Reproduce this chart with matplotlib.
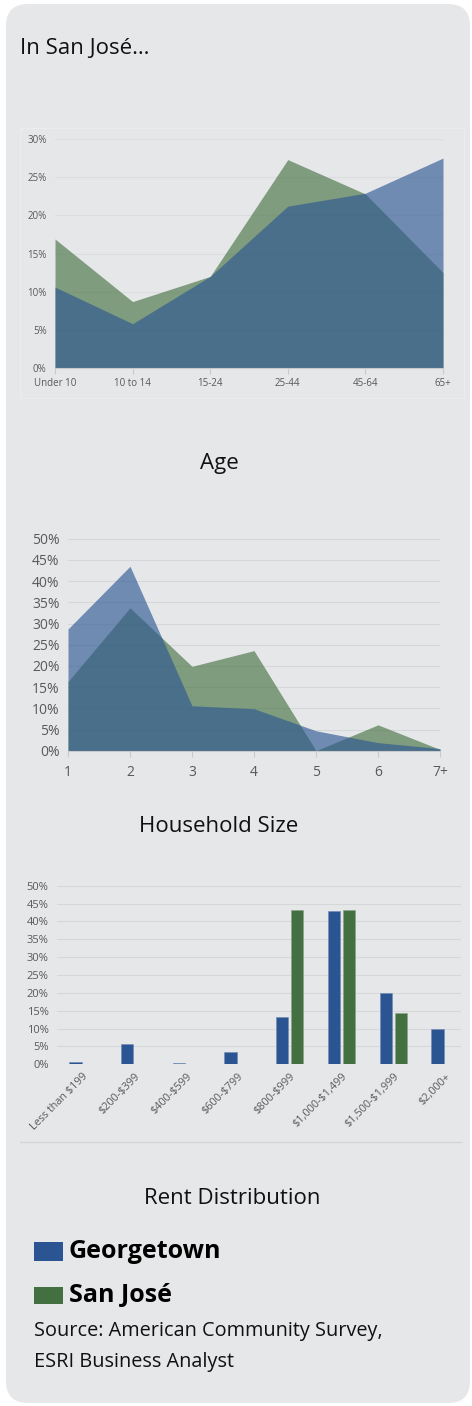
import numpy as np
import matplotlib.pyplot as plt
from matplotlib.patches import FancyBboxPatch, Rectangle
from matplotlib.ticker import PercentFormatter, MultipleLocator

plt.rcParams['font.family'] = ['Open Sans', 'DejaVu Sans']

# ---- data ----
age_labels = ['Under 10', '10 to 14', '15-24', '25-44', '45-64', '65+']
age_georgetown = [10.6, 5.8, 12.0, 21.2, 22.9, 27.5]
age_sanjose = [16.9, 8.7, 12.0, 27.3, 22.8, 12.5]

hh_labels = ['1', '2', '3', '4', '5', '6', '7+']
hh_georgetown = [28.7, 43.5, 10.6, 9.9, 4.7, 1.9, 0.5]
hh_sanjose = [16.3, 33.7, 19.9, 23.6, 0.0, 6.1, 0.3]

rent_labels = ['Less than $199', '$200-$399', '$400-$599', '$600-$799',
               '$800-$999', '$1,000-$1,499', '$1,500-$1,999', '$2,000+']
rent_georgetown = [0.7, 5.8, 0.4, 3.4, 13.3, 42.8, 20.1, 9.8]
rent_sanjose = [0, 0, 0, 0, 43.1, 43.1, 14.3, 0]

BLUE = '#2b5592'
GREEN = '#437040'
BG = '#e6e7e9'
GRID = '#d6d7da'
TICK = '#595959'

W, H = 472, 1406
fig = plt.figure(figsize=(W / 100, H / 100), dpi=100)
fig.patch.set_facecolor('white')

# background layer in pixel coords
bg = fig.add_axes([0, 0, 1, 1], zorder=0)
bg.set_xlim(0, W)
bg.set_ylim(H, 0)
bg.axis('off')
bg.add_patch(FancyBboxPatch((6, 4), 464, 1399, boxstyle='round,pad=0,rounding_size=22',
                            facecolor=BG, edgecolor='none'))


def px_axes(left, top, right, bottom):
    return fig.add_axes([left / W, 1 - bottom / H, (right - left) / W, (bottom - top) / H],
                        zorder=2, facecolor='none')


def style(ax, ymax, step, size, gridcolor=GRID):
    ax.set_ylim(0, ymax)
    ax.yaxis.set_major_locator(MultipleLocator(step))
    ax.yaxis.set_major_formatter(PercentFormatter(decimals=0))
    ax.grid(axis='y', color=gridcolor, linewidth=0.8)
    ax.set_axisbelow(True)
    for s in ['top', 'right', 'left']:
        ax.spines[s].set_visible(False)
    ax.spines['bottom'].set_color('#c9cacc')
    ax.tick_params(axis='y', length=0, labelsize=size, labelcolor=TICK, pad=6)
    ax.tick_params(axis='x', colors='#c9cacc', labelcolor=TICK, labelsize=size, length=4)


bg.text(20, 48, 'In San José…', fontsize=16, color='#111111', va='center', ha='left')

# ---- age chart ----
bg.add_patch(Rectangle((19.5, 127.5), 444, 270, facecolor='none', edgecolor='#ebecee', linewidth=1))
ax1 = px_axes(55, 139, 443, 368)
x = np.arange(len(age_labels))
ax1.fill_between(x, age_sanjose, color=GREEN, alpha=0.63, linewidth=0)
ax1.fill_between(x, age_georgetown, color=BLUE, alpha=0.63, linewidth=0)
ax1.set_xlim(0, len(age_labels) - 1)
ax1.set_xticks(x, age_labels)
style(ax1, 30, 5, 7, gridcolor='#dcdde0')
ax1.tick_params(axis='x', pad=3)
bg.text(219, 463, 'Age', fontsize=16, ha='center', va='center', color='#111111')

# ---- household size chart ----
ax2 = px_axes(68, 538.7, 440, 750.7)
x = np.arange(len(hh_labels))
ax2.fill_between(x, hh_sanjose, color=GREEN, alpha=0.63, linewidth=0)
ax2.fill_between(x, hh_georgetown, color=BLUE, alpha=0.63, linewidth=0)
ax2.set_xlim(0, len(hh_labels) - 1)
ax2.set_xticks(x, hh_labels)
style(ax2, 50, 5, 10)
ax2.tick_params(axis='x', pad=6)
bg.text(219, 826, 'Household Size', fontsize=16, ha='center', va='center', color='#111111')

# ---- rent chart ----
ax3 = px_axes(57, 885.7, 461, 1064.3)
x = np.arange(len(rent_labels))
bw = 0.24
ax3.bar(x - 0.145, rent_georgetown, bw, color=BLUE, edgecolor='#6f8bb5', linewidth=0.4)
ax3.bar(x + 0.145, rent_sanjose, bw, color=GREEN, edgecolor='#88a287', linewidth=0.4)
ax3.set_xlim(-0.5, 7.31)
ax3.set_xticks(x, [lab.replace('$', r'\$') for lab in rent_labels],
               rotation=45, ha='right', rotation_mode='anchor')
style(ax3, 50, 5, 8)
ax3.spines['bottom'].set_visible(False)
ax3.tick_params(axis='x', length=0, pad=5, labelsize=7.8)
bg.plot([20, 461], [1142, 1142], color='#d4d5d8', linewidth=1)
bg.text(232, 1198, 'Rent Distribution', fontsize=16, ha='center', va='center', color='#111111')

# ---- legend and source ----
bg.add_patch(Rectangle((34, 1242), 28.5, 19, facecolor=BLUE, edgecolor='none'))
bg.add_patch(Rectangle((34, 1286.5), 28.5, 17.5, facecolor=GREEN, edgecolor='none'))
bg.text(69, 1251, 'Georgetown', fontsize=18, fontweight='bold', va='center', color='black')
bg.text(69, 1295, 'San José', fontsize=18, fontweight='bold', va='center', color='black')
bg.text(34, 1331, 'Source: American Community Survey,', fontsize=14.3, va='center', color='#111111')
bg.text(34, 1362, 'ESRI Business Analyst', fontsize=14.3, va='center', color='#111111')

fig.savefig('out.png', dpi=100, facecolor='white')
